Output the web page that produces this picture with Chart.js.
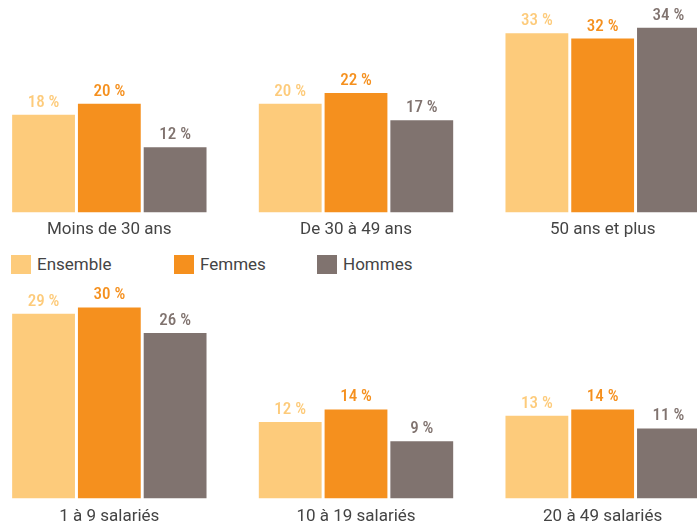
<!DOCTYPE html>
<html>
<head>
<meta charset="utf-8">
<script src="https://cdn.jsdelivr.net/npm/chart.js@4"></script>
<style>
  html, body { margin: 0; padding: 0; background: #fff; overflow: hidden; }
  body { width: 697px; height: 524px; position: relative; font-family: Roboto, sans-serif; }
  .wrap { position: absolute; left: -14px; }
  #legend { position: absolute; top: 255px; left: 11px; height: 20px; }
  .item { position: absolute; top: 0; display: flex; align-items: center; font-size: 17px; color: #444; white-space: nowrap; line-height: 19px; }
  .sw { width: 20px; height: 19px; margin-right: 6px; }
</style>
</head>
<body>
<div class="wrap" style="top:0"><canvas id="ageChart" width="740" height="247"></canvas></div>
<div id="legend"></div>
<div class="wrap" style="top:280px"><canvas id="sizeChart" width="740" height="255"></canvas></div>
<script>
// Tranches d'age
const ageLabels = ['Moins de 30 ans', 'De 30 à 49 ans', '50 ans et plus'];
const ageEnsemble = [18, 20, 33];
const ageFemmes = [20, 22, 32];
const ageHommes = [12, 17, 34];

// Taille de l'entreprise
const sizeLabels = ['1 à 9 salariés', '10 à 19 salariés', '20 à 49 salariés'];
const sizeEnsemble = [29, 12, 13];
const sizeFemmes = [30, 14, 14];
const sizeHommes = [26, 9, 11];

const seriesNames = ['Ensemble', 'Femmes', 'Hommes'];
const colors = ['#FDCB7B', '#F5901E', '#80736F'];

// draw the "18 %" labels above each bar
const valueLabels = {
  id: 'valueLabels',
  afterDatasetsDraw(chart) {
    const ctx = chart.ctx;
    ctx.save();
    ctx.font = '500 17px "Roboto Condensed", Roboto, sans-serif';
    ctx.textAlign = 'center';
    ctx.textBaseline = 'alphabetic';
    chart.data.datasets.forEach((ds, i) => {
      ctx.fillStyle = colors[i];
      chart.getDatasetMeta(i).data.forEach((bar, j) => {
        ctx.fillText(ds.data[j] + ' %', bar.x, bar.y - 8);
      });
    });
    ctx.restore();
  }
};

function makeChart(id, labels, values, yMax, pad) {
  new Chart(document.getElementById(id), {
    type: 'bar',
    data: {
      labels: labels,
      datasets: values.map((v, i) => ({
        label: seriesNames[i],
        data: v,
        backgroundColor: colors[i],
        categoryPercentage: 0.8,
        barPercentage: 0.955
      }))
    },
    options: {
      responsive: false,
      animation: false,
      layout: { padding: 0 },
      plugins: { legend: { display: false }, tooltip: { enabled: false } },
      scales: {
        x: {
          grid: { display: false, drawTicks: false },
          border: { display: false },
          ticks: { padding: pad, color: '#444', font: { family: 'Roboto', size: 17 } }
        },
        y: { display: false, min: 0, max: yMax }
      }
    },
    plugins: [valueLabels]
  });
}

makeChart('ageChart', ageLabels, [ageEnsemble, ageFemmes, ageHommes], 39.1, 7);
makeChart('sizeChart', sizeLabels, [sizeEnsemble, sizeFemmes, sizeHommes], 34.3, 8);

// legend
const legend = document.getElementById('legend');
const legendX = [0, 163, 306];
seriesNames.forEach((name, i) => {
  const item = document.createElement('div');
  item.className = 'item';
  item.style.left = legendX[i] + 'px';
  item.innerHTML = `<span class="sw" style="background:${colors[i]}"></span>${name}`;
  legend.appendChild(item);
});
</script>
</body>
</html>
